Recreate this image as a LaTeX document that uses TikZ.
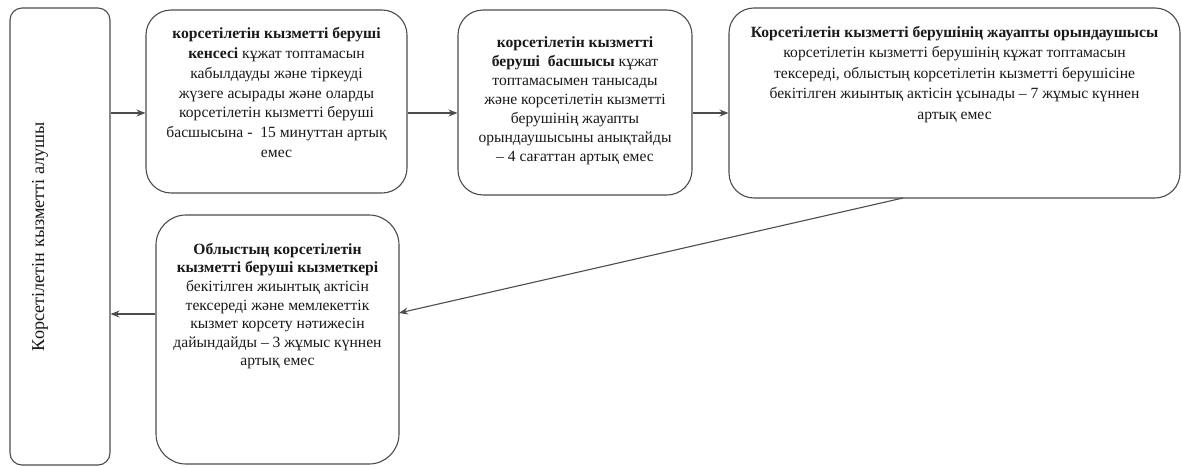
\documentclass[tikz,border=0pt]{standalone}
\usepackage{fontspec}
\setmainfont{Liberation Serif}
\usetikzlibrary{arrows.meta}
\begin{document}
\begin{tikzpicture}[x=1pt,y=-1pt,
  box/.style={draw=black!70, line width=1.1pt, inner sep=0pt, fill=white},
  txt/.style={align=center, inner sep=0pt, text=black!90,
    font=\fontsize{15.6}{19.9}\selectfont},
  arr/.style={draw=black!70, line width=1.1pt, -{Stealth[length=9pt,width=7pt]}}]
\useasboundingbox (0,0) rectangle (1182,466);

% process boxes
\node[box, minimum width=100pt, minimum height=457pt, rounded corners=12pt] (lb) at (60,236.5) {};
\node[box, minimum width=261pt, minimum height=183pt, rounded corners=25pt] (b1) at (276.5,101.5) {};
\node[box, minimum width=234pt, minimum height=185pt, rounded corners=25pt] (b2) at (575,102.5) {};
\node[box, minimum width=451pt, minimum height=190pt, rounded corners=25pt] (b3) at (954.5,103) {};
\node[box, minimum width=243pt, minimum height=249pt, rounded corners=30pt] (b4) at (277.5,339.5) {};

% texts
\node[txt, rotate=90, font=\fontsize{18.2}{20}\selectfont] (t0) at (40,236.5) {Корсетілетін кызметті алушы};
\node[txt, anchor=north] (t1) at (b1.center |- 0,27) {\textbf{корсетілетін кызметті беруші}\\
\textbf{кенсесі} кұжат топтамасын\\
кабылдауды және тіркеуді\\
жүзеге асырады және оларды\\
корсетілетін кызметті беруші\\
басшысына -\ \ 15 минуттан артық\\
емес};
\node[txt, anchor=north, font=\fontsize{15.6}{19}\selectfont] (t2) at (b2.center |- 0,36) {\textbf{корсетілетін кызметті}\\
\textbf{беруші\ \ басшысы} кұжат\\
топтамасымен танысады\\
және корсетілетін кызметті\\
берушінің жауапты\\
орындаушысыны анықтайды\\
– 4 сағаттан артық емес};
\node[txt, anchor=north, font=\fontsize{15.6}{20.5}\selectfont] (t3) at (b3.center |- 0,26) {\textbf{Корсетілетін кызметті берушінің жауапты орындаушысы}\\
корсетілетін кызметті берушінің кұжат топтамасын\\
тексереді, облыстың корсетілетін кызметті берушісіне\\
бекітілген жиынтық актісін ұсынады – 7 жұмыс күннен\\
артық емес};
\node[txt, anchor=north, font=\fontsize{15.6}{18.6}\selectfont] (t4) at (b4.center |- 0,243) {\textbf{Облыстың корсетілетін}\\
\textbf{кызметті беруші кызметкері}\\
бекітілген жиынтық актісін\\
тексереді және мемлекеттік\\
кызмет корсету нәтижесін\\
дайындайды – 3 жұмыс күннен\\
артық емес};

% connector heights
\coordinate (r1) at (0,113);
\coordinate (r2) at (0,314);
\coordinate (s3) at (903,198);
\coordinate (e4) at (399,313);

\draw[arr] (lb.east |- r1) -- (b1.west |- r1);
\draw[arr] (b1.east |- r1) -- (b2.west |- r1);
\draw[arr] (b2.east |- r1) -- (b3.west |- r1);
\draw[arr] (s3) -- (e4);
\draw[arr] (b4.west |- r2) -- (lb.east |- r2);
\end{tikzpicture}
\end{document}
